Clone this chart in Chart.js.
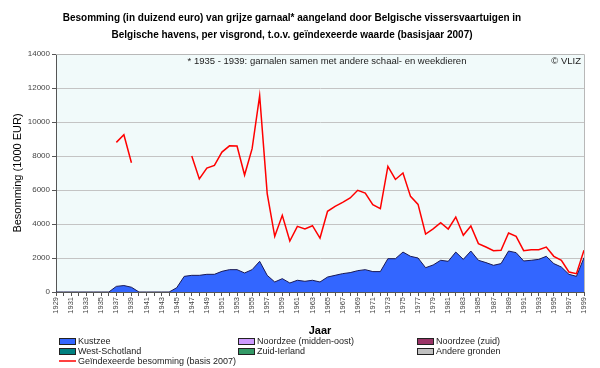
<!DOCTYPE html>
<html>
<head>
<meta charset="utf-8">
<script src="https://cdn.jsdelivr.net/npm/chart.js@4/dist/chart.umd.min.js"></script>
<style>
  html, body { margin: 0; padding: 0; background: #fff; }
  #wrap { width: 600px; height: 368px; position: relative; }
</style>
</head>
<body>
<div id="wrap"><canvas id="c" width="600" height="368"></canvas></div>
<script>
// Years on the category axis
const years = [];
for (let y = 1929; y <= 1999; y++) years.push(String(y));

// Kustzee (1000 EUR), stacked area
const kustzee = [
  0, 0, 0, 0, 0, 0, 0, 0, 330, 380, 280,
  0, 0, 0, 0, 0, 250, 920, 980, 980, 1040,
  1040, 1215, 1315, 1315, 1120, 1315, 1805, 980, 590, 785,
  530, 690, 630, 690, 590, 880, 980, 1080, 1140, 1255,
  1315, 1200, 1200, 1960, 1960, 2350, 2100, 2000, 1430, 1590,
  1865, 1805, 2350, 1920, 2410, 1865, 1730, 1570, 1670, 2410,
  2315, 1825, 1865, 1920, 2100, 1670, 1470, 1040, 920, 2020
];

// other fishing grounds: nothing visible in the picture
const noordzeeMO = [];
const noordzeeZuid = [];
const westSchotland = [];
const zuidIerland = [];
const andereGronden = [];

// Indexed value (basis 2007), gaps where no data
const geindexeerd = [
  null, null, null, null, null, null, null, null, 8800, 9250, 7600,
  null, null, null, null, null, null, null, 8000, 6650, 7290,
  7450, 8230, 8600, 8590, 6880, 8430, 11550, 5790, 3275, 4510,
  3000, 3860, 3705, 3900, 3175, 4745, 5040, 5275, 5530, 5980,
  5820, 5140, 4905, 7390, 6620, 7000, 5625, 5155, 3410, 3710,
  4080, 3705, 4410, 3335, 3880, 2845, 2645, 2430, 2450, 3470,
  3275, 2430, 2490, 2490, 2645, 2100, 1865, 1175, 1080, 2450
];

const yTicks = [0, 2000, 4000, 6000, 8000, 10000, 12000, 14000];

const FONT = "'Liberation Sans', Arial, sans-serif";

function areaSet(label, data, color) {
  return {
    type: 'line',
    label: label,
    data: data,
    backgroundColor: color,
    borderColor: '#1a1a55',
    borderWidth: 1,
    fill: 'origin',
    pointRadius: 0,
    tension: 0,
    order: 1
  };
}

const datasets = [
  areaSet('Kustzee', kustzee, '#3366ff'),
  areaSet('Noordzee (midden-oost)', noordzeeMO, '#cc99ff'),
  areaSet('Noordzee (zuid)', noordzeeZuid, '#993366'),
  areaSet('West-Schotland', westSchotland, '#008080'),
  areaSet('Zuid-Ierland', zuidIerland, '#339966'),
  areaSet('Andere gronden', andereGronden, '#c0c0c0'),
  {
    type: 'line',
    label: 'Geïndexeerde besomming (basis 2007)',
    data: geindexeerd,
    borderColor: '#ff0000',
    backgroundColor: '#ff0000',
    borderWidth: 1.5,
    fill: false,
    pointRadius: 0,
    spanGaps: false,
    tension: 0,
    order: 0,
    isLine: true
  }
];

// plot background + frame
const plotBack = {
  id: 'plotBack',
  beforeDraw(chart) {
    const { ctx, chartArea: a } = chart;
    ctx.save();
    ctx.fillStyle = '#f1fafa';
    ctx.fillRect(a.left, a.top, a.right - a.left, a.bottom - a.top);
    ctx.restore();
  },
  afterDraw(chart) {
    const { ctx, chartArea: a } = chart;
    ctx.save();
    ctx.strokeStyle = '#b8b8b8';
    ctx.lineWidth = 1;
    ctx.beginPath();
    ctx.moveTo(a.left, a.top + 0.5);
    ctx.lineTo(a.right + 0.5, a.top + 0.5);
    ctx.lineTo(a.right + 0.5, a.bottom);
    ctx.stroke();

    // note and credit inside the plot
    ctx.fillStyle = '#222';
    ctx.font = '9.5px ' + FONT;
    ctx.textBaseline = 'middle';
    ctx.textAlign = 'center';
    ctx.fillText('* 1935 - 1939: garnalen samen met andere schaal- en weekdieren', 327, 61);
    ctx.textAlign = 'right';
    ctx.fillText('© VLIZ', a.right - 3, 61);
    ctx.restore();
  }
};

// legend in three columns
const gridLegend = {
  id: 'gridLegend',
  afterDraw(chart) {
    const { ctx } = chart;
    const colX = [59, 238, 417];
    const rowY = [341, 351, 361];
    ctx.save();
    ctx.font = '9px ' + FONT;
    ctx.textBaseline = 'middle';
    ctx.textAlign = 'left';
    chart.data.datasets.forEach((ds, i) => {
      const x = colX[i % 3];
      const y = rowY[Math.floor(i / 3)];
      if (ds.isLine) {
        ctx.strokeStyle = ds.borderColor;
        ctx.lineWidth = 1.5;
        ctx.beginPath();
        ctx.moveTo(x, y);
        ctx.lineTo(x + 17, y);
        ctx.stroke();
      } else {
        ctx.fillStyle = ds.backgroundColor;
        ctx.fillRect(x, y - 3, 17, 6);
        ctx.strokeStyle = '#222';
        ctx.lineWidth = 1;
        ctx.strokeRect(x + 0.5, y - 2.5, 16, 6);
      }
      ctx.fillStyle = '#222';
      ctx.fillText(ds.label, x + 19, y + 0.5);
    });
    ctx.restore();
  }
};

new Chart(document.getElementById('c'), {
  type: 'line',
  data: { labels: years, datasets: datasets },
  options: {
    responsive: false,
    animation: false,
    layout: { padding: { top: 0, right: 16, bottom: 30, left: 0 } },
    plugins: {
      legend: { display: false },
      tooltip: { enabled: false },
      title: {
        display: true,
        text: [
          'Besomming (in duizend euro) van grijze garnaal* aangeland door Belgische vissersvaartuigen in',
          'Belgische havens, per visgrond, t.o.v. geïndexeerde waarde (basisjaar 2007)'
        ],
        color: '#000',
        font: { family: FONT, size: 10, weight: 'bold', lineHeight: 1.65 },
        padding: { top: 10, bottom: 11 }
      }
    },
    scales: {
      x: {
        type: 'category',
        offset: false,
        grid: { drawOnChartArea: false, drawTicks: true, tickLength: 4, color: '#555' },
        border: { color: '#555' },
        ticks: {
          autoSkip: false,
          minRotation: 90,
          maxRotation: 90,
          padding: 1,
          color: '#444',
          font: { family: FONT, size: 7.5 },
          callback: function (v) {
            const y = Number(this.getLabelForValue(v));
            return y % 2 === 1 ? String(y) : '';
          }
        },
        title: {
          display: true,
          text: 'Jaar',
          color: '#000',
          font: { family: FONT, size: 11, weight: 'bold' },
          padding: { top: 0, bottom: 0 }
        },
        afterFit(scale) { scale.height = 46; }
      },
      y: {
        min: 0,
        max: 14000,
        afterBuildTicks(scale) { scale.ticks = yTicks.map(v => ({ value: v })); },
        grid: { color: '#c4c4c4', tickColor: '#555', tickLength: 4 },
        border: { color: '#555' },
        ticks: {
          color: '#444',
          padding: 2,
          font: { family: FONT, size: 8 },
          callback: v => String(v)
        },
        title: {
          display: true,
          text: 'Besomming (1000 EUR)',
          color: '#000',
          font: { family: FONT, size: 11 },
          padding: { top: 11, bottom: 0 }
        },
        afterFit(scale) { scale.width = 56; }
      }
    }
  },
  plugins: [plotBack, gridLegend]
});
</script>
</body>
</html>
